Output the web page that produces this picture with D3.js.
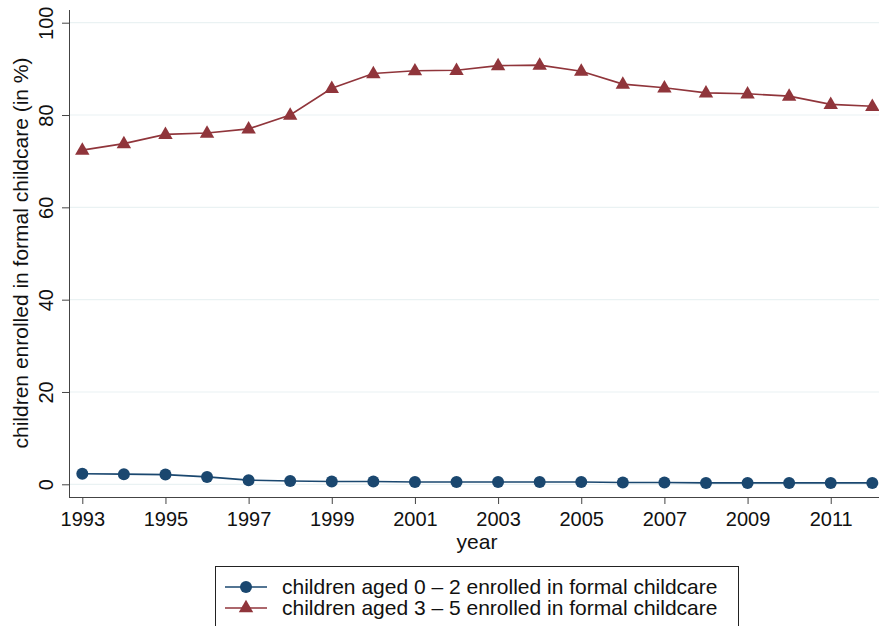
<!DOCTYPE html>
<html>
<head>
<meta charset="utf-8">
<script src="https://cdn.jsdelivr.net/npm/d3@7"></script>
<style>
  body { margin: 0; background: #fff; }
  svg { font-family: "Liberation Sans", Arial, sans-serif; }
</style>
</head>
<body>
<svg id="chart" width="879" height="626"></svg>
<script>
const years = d3.range(1993, 2013)
const age02 = [2.3, 2.2, 2.1, 1.6, 0.9, 0.7, 0.6, 0.6, 0.5, 0.5, 0.5, 0.5, 0.5, 0.4, 0.4, 0.3, 0.3, 0.3, 0.3, 0.3]
const age35 = [72.4, 73.8, 75.8, 76.1, 77.0, 80.0, 85.8, 89.0, 89.6, 89.7, 90.7, 90.8, 89.5, 86.7, 85.9, 84.8, 84.6, 84.1, 82.3, 81.9]
const yTicks = [0, 20, 40, 60, 80, 100]
const xTicks = [1993, 1995, 1997, 1999, 2001, 2003, 2005, 2007, 2009, 2011]
const legendLabels = [
  "children aged 0 \u2013 2 enrolled in formal childcare",
  "children aged 3 \u2013 5 enrolled in formal childcare"
]

const blue = "#1a476f", red = "#90353b"
const svg = d3.select("#chart")

const x = d3.scaleLinear().domain([1993, 2012]).range([82.3, 872.3])
const y = d3.scaleLinear().domain([0, 100]).range([484.3, 22.7])

// gridlines
svg.append("g")
  .selectAll("line")
  .data(yTicks).enter()
  .append("line")
  .attr("x1", 69).attr("x2", 879)
  .attr("y1", d => y(d)).attr("y2", d => y(d))
  .attr("stroke", "#eaf2f3").attr("stroke-width", 1.2)

// y axis
let yAxis = svg.append("g")
  .attr("transform", "translate(69,0)")
  .call(d3.axisLeft(y).tickValues(yTicks).tickSize(7).tickPadding(0).tickFormat(d3.format("d")))
yAxis.select(".domain").attr("d", "M0.5,10V497").attr("stroke", "#444")
yAxis.selectAll(".tick line").attr("stroke", "#444")
yAxis.selectAll(".tick text")
  .attr("transform", "rotate(-90)")
  .attr("x", 0).attr("y", -16)
  .attr("dy", 0)
  .attr("text-anchor", "middle")
  .attr("font-size", 20).attr("fill", "#111")
  .attr("font-family", "Liberation Sans, Arial, sans-serif")

// x axis
let xAxis = svg.append("g")
  .attr("transform", "translate(0,497)")
  .call(d3.axisBottom(x).tickValues(xTicks).tickSize(7).tickPadding(0).tickFormat(d3.format("d")))
xAxis.select(".domain").attr("d", "M69,0.5H879").attr("stroke", "#444")
xAxis.selectAll(".tick line").attr("stroke", "#444")
xAxis.selectAll(".tick text")
  .attr("y", 29).attr("dy", 0)
  .attr("font-size", 20).attr("fill", "#111")
  .attr("font-family", "Liberation Sans, Arial, sans-serif")

// axis titles
svg.append("text")
  .attr("transform", "translate(28,253) rotate(-90)")
  .attr("text-anchor", "middle")
  .attr("font-size", 21).attr("fill", "#111")
  .text("children enrolled in formal childcare (in %)")
svg.append("text")
  .attr("x", 477).attr("y", 549)
  .attr("text-anchor", "middle")
  .attr("font-size", 21).attr("fill", "#111")
  .text("year")

// series
const line = d3.line().x(d => x(d[0])).y(d => y(d[1]))
const tri = d3.symbol().type(d3.symbolTriangle).size(90)

let s1 = d3.zip(years, age02)
let s2 = d3.zip(years, age35)

svg.append("path").datum(s1)
  .attr("d", line).attr("fill", "none")
  .attr("stroke", blue).attr("stroke-width", 1.6)
svg.append("g").selectAll("circle")
  .data(s1).enter()
  .append("circle")
  .attr("cx", d => x(d[0])).attr("cy", d => y(d[1]))
  .attr("r", 6).attr("fill", blue)

svg.append("path").datum(s2)
  .attr("d", line).attr("fill", "none")
  .attr("stroke", red).attr("stroke-width", 1.6)
svg.append("g").selectAll("path")
  .data(s2).enter()
  .append("path")
  .attr("d", tri)
  .attr("transform", d => `translate(${x(d[0])},${y(d[1]) + 0.5})`)
  .attr("fill", red)

// legend
let legend = svg.append("g")
legend.append("rect")
  .attr("x", 215.5).attr("y", 566.5)
  .attr("width", 523).attr("height", 80)
  .attr("fill", "#fff").attr("stroke", "#222").attr("stroke-width", 1)

const rows = [
  { label: legendLabels[0], color: blue, shape: "circle" },
  { label: legendLabels[1], color: red, shape: "triangle" }
]
rows.forEach((r, i) => {
  let cy = 587 + i * 21
  legend.append("line")
    .attr("x1", 225).attr("x2", 267)
    .attr("y1", cy).attr("y2", cy)
    .attr("stroke", r.color).attr("stroke-width", 1.6)
  if (r.shape == "circle") {
    legend.append("circle").attr("cx", 246).attr("cy", cy).attr("r", 6).attr("fill", r.color)
  } else {
    legend.append("path").attr("d", tri)
      .attr("transform", `translate(246,${cy})`).attr("fill", r.color)
  }
  legend.append("text")
    .attr("x", 282).attr("y", cy + 7)
    .attr("font-size", 21).attr("fill", "#111")
    .text(r.label)
})
</script>
</body>
</html>
